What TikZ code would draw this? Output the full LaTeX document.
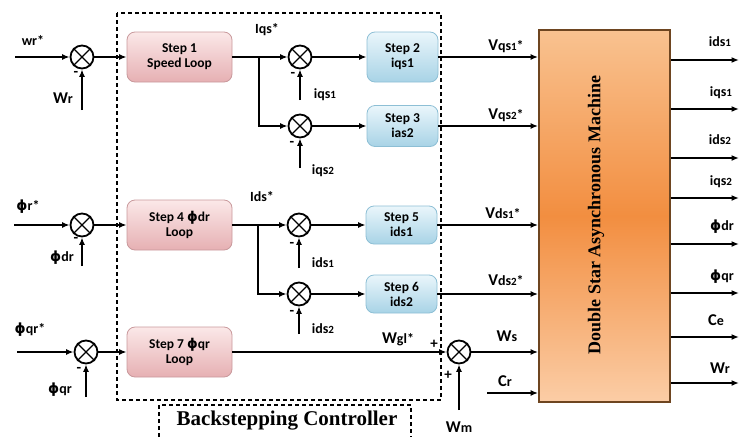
\documentclass[tikz,border=0pt]{standalone}
\usepackage{fontspec}
\setmainfont{Carlito}
\newfontfamily\serifb{Liberation Serif}
\newfontfamily\phif{DejaVu Sans}
\usetikzlibrary{arrows.meta}
\definecolor{pinkT}{HTML}{FBE8E8}
\definecolor{pinkB}{HTML}{E6B0B3}
\definecolor{pinkD}{HTML}{C9999C}
\definecolor{blueT}{HTML}{EAF6FB}
\definecolor{blueB}{HTML}{A8D3E6}
\definecolor{blueD}{HTML}{8DBFD5}
\definecolor{orT}{HTML}{F9C290}
\definecolor{orM}{HTML}{F28E40}
\definecolor{orB}{HTML}{FBCDA6}
\definecolor{orD}{HTML}{6E4520}
\newcommand\mybig[1]{{\fontsize{16.5}{16}\selectfont #1}}
\newcommand\mysmall[1]{{\fontsize{11}{11}\selectfont #1}}
\newcommand\ph{{\phif\bfseries ϕ}}
\begin{document}
\begin{tikzpicture}[x=1pt,y=-1pt,line width=1.6pt,
  arr/.style={-{Latex[length=7.5pt,width=6pt]}},
  sumj/.style={circle,draw,minimum size=23pt,inner sep=0pt,line width=1.8pt},
  pinkbox/.style={rounded corners=8pt,draw=pinkD,line width=0.8pt,top color=pinkT,bottom color=pinkB,
    minimum width=105pt,minimum height=50pt,align=center,font=\fontsize{13.5}{15}\selectfont\bfseries},
  bluebox/.style={rounded corners=8pt,draw=blueD,line width=0.8pt,top color=blueT,bottom color=blueB,
    minimum width=71pt,align=center,font=\fontsize{13.5}{15}\selectfont\bfseries},
  lab/.style={font=\fontsize{14}{14}\selectfont\bfseries,inner sep=0pt},
  sgn/.style={font=\fontsize{15}{15}\selectfont\bfseries,inner sep=0pt},
  dsh/.style={dash pattern=on 4pt off 3pt,line width=1.2pt}
]
\useasboundingbox (0,0) rectangle (739,437);
% controller frame
\draw[dsh] (117,13) rectangle (441,400);
\node[font=\fontsize{21}{21}\selectfont\serifb\bfseries,inner sep=0pt] (bc) at (287,421) {Backstepping Controller};
\draw[dsh] (159,437) -- (159,405) -- (411,405) -- (411,437);
% machine
\node[draw=orD,line width=1.8pt,shading=axis,top color=orT,bottom color=orB,middle color=orM,
  minimum width=131pt,minimum height=372pt,inner sep=0pt] (m) at (604.5,216) {};
\node[rotate=90,font=\fontsize{18}{18}\selectfont\serifb\bfseries,inner sep=0pt] (mt) at (596,215) {Double Star Asynchronous Machine};
% boxes
\node[pinkbox] (b1) at (179.5,57) {Step 1\\Speed Loop};
\node[pinkbox] (b4) at (179.5,225) {Step 4 \ph dr\\Loop};
\node[pinkbox] (b7) at (179.5,352) {Step 7 \ph qr\\Loop};
\node[bluebox,minimum height=50pt] (b2) at (402.5,57) {Step 2\\iqs1};
\node[bluebox,minimum height=41pt] (b3) at (402.5,126) {Step 3\\ias2};
\node[bluebox,minimum height=38pt] (b5) at (401.5,225) {Step 5\\ids1};
\node[bluebox,minimum height=38pt] (b6) at (401.5,294) {Step 6\\ids2};
% sum junctions
\node[sumj] (s1) at (82,57) {};
\node[sumj] (s2) at (300,57) {};
\node[sumj] (s3) at (300,126) {};
\node[sumj] (s4) at (82,225) {};
\node[sumj] (s5) at (299,225) {};
\node[sumj] (s6) at (299,294) {};
\node[sumj] (s7) at (86,352) {};
\node[sumj] (s8) at (459,352) {};
\foreach \s in {s1,s2,s3,s4,s5,s6,s7,s8}
  \draw[line width=1.3pt] (\s.north west) -- (\s.south east) (\s.north east) -- (\s.south west);
% coordinates
\coordinate (i1) at (15,57);
\coordinate (f1) at (82,110);
\coordinate (i4) at (14,225);
\coordinate (f4) at (82,266);
\coordinate (i7) at (17,352);
\coordinate (f7) at (86,397);
\coordinate (j1) at (259,57);
\coordinate (j4) at (258,225);
\coordinate (f2) at (300,100);
\coordinate (f3) at (300,168);
\coordinate (f5) at (299,268);
\coordinate (f6) at (299,334);
\coordinate (wm) at (459,410);
\coordinate (cr) at (487,393);
% inputs
\draw[arr] (i1) -- (s1);
\draw[arr] (f1) -- (s1);
\draw[arr] (i4) -- (s4);
\draw[arr] (f4) -- (s4);
\draw[arr] (i7) -- (s7);
\draw[arr] (f7) -- (s7);
\draw[arr] (s1) -- (b1);
\draw[arr] (s4) -- (b4);
\draw[arr] (s7) -- (b7);
% current loops
\draw[arr] (b1) -- (s2);
\draw[arr] (j1) |- (s3);
\draw[arr] (b4) -- (s5);
\draw[arr] (j4) |- (s6);
\draw[arr] (f2) -- (s2);
\draw[arr] (f3) -- (s3);
\draw[arr] (f5) -- (s5);
\draw[arr] (f6) -- (s6);
\draw[arr] (s2) -- (b2);
\draw[arr] (s3) -- (b3);
\draw[arr] (s5) -- (b5);
\draw[arr] (s6) -- (b6);
% to machine
\draw[arr] (b2) -- (b2 -| m.west);
\draw[arr] (b3) -- (b3 -| m.west);
\draw[arr] (b5) -- (b5 -| m.west);
\draw[arr] (b6) -- (b6 -| m.west);
\draw[arr] (b7) -- (s8);
\draw[arr] (s8) -- (s8 -| m.west);
\draw[arr] (wm) -- (s8);
\draw[arr] (cr) -- (cr -| m.west);
% outputs
\foreach \n/\y in {o1/60,o2/109,o3/158,o4/198,o5/244,o6/293,o7/337,o8/383}{
  \coordinate (\n) at (739,\y);
  \draw[arr] (m.east |- \n) -- (\n);
}
% labels
\node[lab] (l1) at (33,40) {wr*};
\node[lab] (l2) at (63,98) {\mybig{W}r};
\node[sgn] (m1) at (76,74) {-};
\node[lab] (l3) at (28,207) {\ph r*};
\node[lab] (l4) at (62,258) {\ph dr};
\node[sgn] (m4) at (76,240) {-};
\node[lab] (l5) at (30,330) {\ph qr*};
\node[lab] (l6) at (60,390) {\ph qr};
\node[sgn] (m7) at (79,370) {-};
\node[lab] (l7) at (267,30) {Iqs*};
\node[lab] (l8) at (262,197) {Ids*};
\node[lab] (l9) at (325,95) {iqs\mysmall{1}};
\node[sgn] (m2) at (293,75) {-};
\node[lab] (l10) at (323,171) {iqs\mysmall{2}};
\node[sgn] (m3) at (292,144) {-};
\node[lab] (l11) at (323,263) {ids\mysmall{1}};
\node[sgn] (m5) at (292,245) {-};
\node[lab] (l12) at (323,329) {ids\mysmall{2}};
\node[sgn] (m6) at (292,313) {-};
\node[lab] (l13) at (506,46) {\mybig{V}qs\mysmall{1}*};
\node[lab] (l14) at (506,115) {\mybig{V}qs\mysmall{2}*};
\node[lab] (l15) at (503,213) {\mybig{V}ds\mysmall{1}*};
\node[lab] (l16) at (506,280) {\mybig{V}ds\mysmall{2}*};
\node[lab] (l17) at (398,339) {\mybig{W}gl*};
\node[sgn] (p1) at (434,344) {+};
\node[sgn] (p2) at (448,375) {+};
\node[lab] (l18) at (507,336) {\mybig{W}s};
\node[lab] (l19) at (459,427) {\mybig{W}m};
\node[lab] (l20) at (505,381) {\mybig{C}r};
\node[lab] (r1) at (720,42) {ids\mysmall{1}};
\node[lab] (r2) at (721,93) {iqs\mysmall{1}};
\node[lab] (r3) at (720,140) {ids\mysmall{2}};
\node[lab] (r4) at (721,182) {iqs\mysmall{2}};
\node[lab] (r5) at (722,227) {\ph dr};
\node[lab] (r6) at (722,277) {\ph qr};
\node[lab] (r7) at (716,320) {\mybig{C}e};
\node[lab] (r8) at (720,368) {\mybig{W}r};
\end{tikzpicture}
\end{document}
